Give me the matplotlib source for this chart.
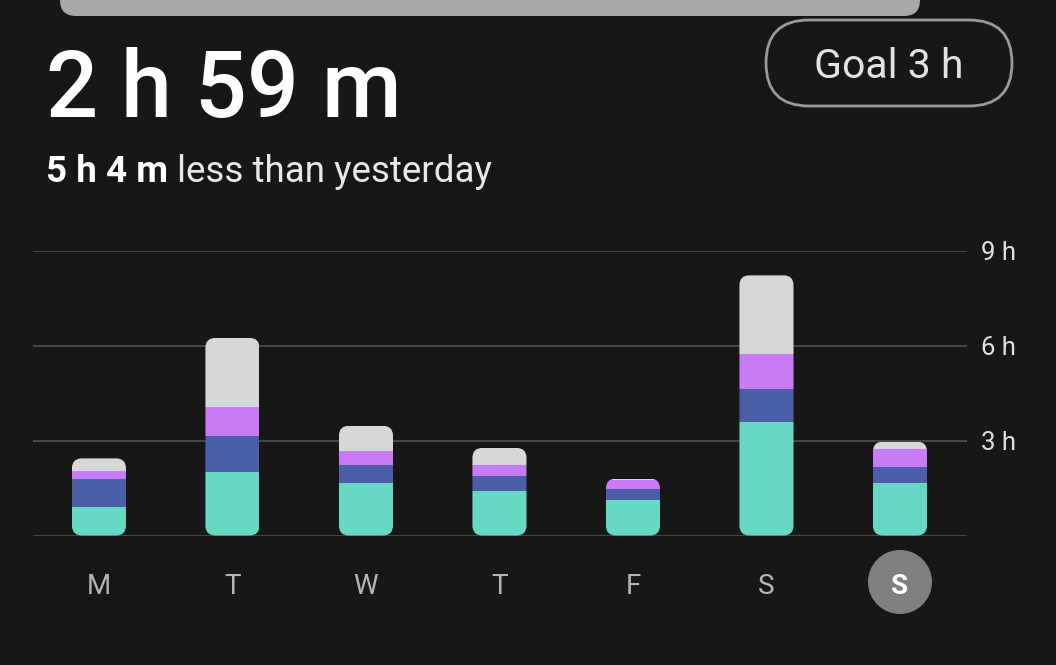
import matplotlib
matplotlib.use('Agg')
import matplotlib.pyplot as plt
from matplotlib.patches import FancyBboxPatch, Circle
import numpy as np

# screen time per day (hours), stacked by category
days = ['M', 'T', 'W', 'T', 'F', 'S', 'S']
teal = [0.89, 2.02, 1.66, 1.40, 1.11, 3.59, 1.66]
blue = [0.89, 1.13, 0.56, 0.47, 0.37, 1.06, 0.51]
purple = [0.25, 0.92, 0.44, 0.35, 0.27, 1.08, 0.58]
grey = [0.41, 2.18, 0.81, 0.55, 0.05, 2.50, 0.22]

y_ticks = [0, 3, 6, 9]
y_labels = ['', '3 h', '6 h', '9 h']

total_text = '2 h 59 m'
diff_bold = '5 h 4 m'
diff_rest = ' less than yesterday'
goal_text = 'Goal 3 h'

BG = '#171717'
colors = ['#67d8c4', '#4a5fa7', '#c77cf6', '#d7d7d7']
FONT = 'Roboto'

W_PX, H_PX = 1056, 665
fig = plt.figure(figsize=(W_PX / 100, H_PX / 100), dpi=100)
fig.patch.set_facecolor(BG)

# overlay in pixel coordinates for header and decorations
over = fig.add_axes([0, 0, 1, 1], zorder=0)
over.set_xlim(0, W_PX)
over.set_ylim(H_PX, 0)
over.axis('off')
over.set_facecolor('none')

ax = fig.add_axes([33 / W_PX, 1 - 535.5 / H_PX, 934 / W_PX, 284.5 / H_PX], zorder=1)
ax.set_facecolor('none')
x = np.arange(len(days))
ax.set_xlim(-0.494, 6.502)
ax.set_ylim(0, 9)

# top handle bar
over.add_patch(FancyBboxPatch((60, -40), 860, 56, boxstyle='round,pad=0,rounding_size=16',
                              facecolor='#a8a8a8', edgecolor='none'))

# header texts
over.text(46, 117, total_text, fontsize=66, color='white', family=FONT,
          fontweight='medium', va='baseline', ha='left')
t1 = over.text(46, 182, diff_bold, fontsize=26.5, color='white', family=FONT,
               fontweight='bold', va='baseline', ha='left')
over.annotate(diff_rest, xy=(1, 0), xycoords=t1, fontsize=26.5, color='#e8e8e8',
              family=FONT, va='bottom', ha='left')

# goal pill
over.add_patch(FancyBboxPatch((766, 20), 246, 86, boxstyle='round,pad=0,rounding_size=43',
                              facecolor='none', edgecolor='#9a9a9a', linewidth=2))
over.text(889, 67, goal_text, fontsize=29.5, color='#e2e2e2', family=FONT,
          ha='center', va='center')

# stacked bars with rounded outline
fig.canvas.draw()
inv = ax.transData.inverted()
p0 = inv.transform((0, 0))
p1 = inv.transform((1, 1))
x_per_px = p1[0] - p0[0]
y_per_px = p1[1] - p0[1]
bar_w = 0.405
radius = 10 * x_per_px

bottoms = np.zeros(len(days))
series = [teal, blue, purple, grey]
containers = []
for vals, col in zip(series, colors):
    bc = ax.bar(x, vals, bar_w, bottom=bottoms, color=col, linewidth=0, zorder=3)
    containers.append(bc)
    bottoms = bottoms + np.array(vals)

for i, tot in enumerate(bottoms):
    clip = FancyBboxPatch((x[i] - bar_w / 2, 0), bar_w, tot,
                          boxstyle=f'round,pad=0,rounding_size={radius}',
                          mutation_aspect=y_per_px / x_per_px,
                          transform=ax.transData, facecolor='none', edgecolor='none')
    for bc in containers:
        bc.patches[i].set_clip_path(clip)

# grid and axes
ax.set_yticks(y_ticks)
ax.set_yticklabels(y_labels)
ax.yaxis.tick_right()
ax.grid(axis='y', color='#4c4c4c', linewidth=1.3, zorder=0)
ax.tick_params(axis='y', length=0, pad=10, labelsize=18.5, labelcolor='#e0e0e0')
for s in ax.spines.values():
    s.set_visible(False)

ax.set_xticks(x)
ax.set_xticklabels(days)
ax.tick_params(axis='x', length=0, pad=27, labelsize=20, labelcolor='#b5b5b5')
for lbl in ax.get_xticklabels() + ax.get_yticklabels():
    lbl.set_family(FONT)

# highlighted current day
last = ax.get_xticklabels()[-1]
last.set_color('white')
last.set_fontweight('bold')
cx = ax.transData.transform((x[-1], 0))[0]
over.add_patch(Circle((cx, 582), 32, facecolor='#808080', edgecolor='none'))

fig.savefig('out.png', dpi=100, facecolor=BG)
